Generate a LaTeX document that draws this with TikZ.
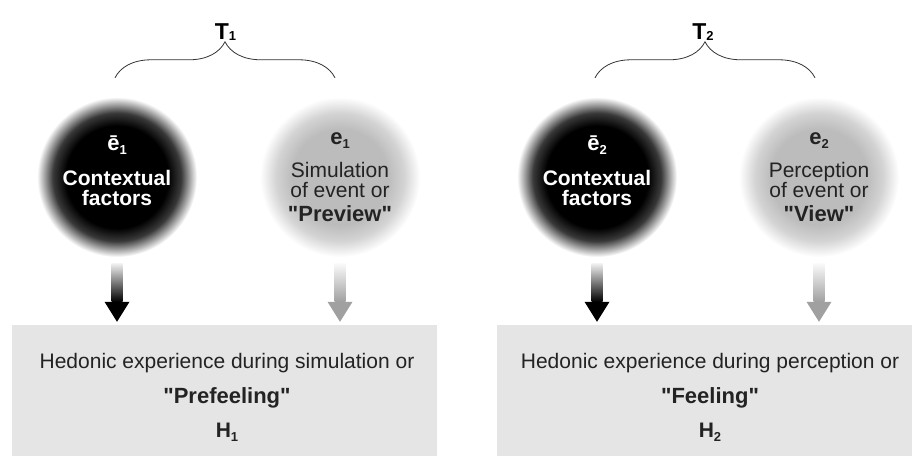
\documentclass[tikz,border=0pt]{standalone}
\usepackage{fontspec}
\setmainfont{Liberation Sans}[Ligatures=TeXOff]
\usetikzlibrary{
    calc,
    decorations.pathreplacing,
    positioning
}
\definecolor{ballgrey}{RGB}{188, 188, 188}
\definecolor{arrowgrey}{RGB}{160, 160, 160}
\definecolor{boxgrey}{RGB}{229, 229, 229}
\definecolor{textgrey}{RGB}{35, 35, 35}
\pgfdeclareradialshading{darkball}{\pgfpointorigin}{color(0bp)=(black); color(16bp)=(black); color(20bp)=(black!78); color(25bp)=(white); color(50bp)=(white)}
\pgfdeclareradialshading{lightball}{\pgfpointorigin}{color(0bp)=(ballgrey); color(15bp)=(ballgrey); color(20bp)=(ballgrey!65!white); color(25bp)=(white); color(50bp)=(white)}
\newcommand{\idx}[2][-4pt]{\raisebox{#1}{\fontsize{13}{13}\selectfont #2}}

\begin{document}
\begin{tikzpicture}[x=1pt, y=1pt,
        ball/.style={circle, minimum size=160pt, inner sep=0pt, align=center, font=\fontsize{21}{20}\selectfont},
        context/.style={ball, shading=darkball, text=white, font=\fontsize{21}{20}\selectfont\bfseries, text depth=12pt},
        event/.style={ball, shading=lightball, text=textgrey},
        hedbox/.style={fill=boxgrey, minimum height=131pt, inner sep=0pt},
        hedtext/.style={align=center, text=textgrey, font=\fontsize{21}{25}\selectfont, inner sep=0pt, anchor=north},
        period/.style={font=\fontsize{23}{23}\selectfont\bfseries, anchor=base},
        brace/.style={decorate, decoration={brace, amplitude=36pt}, line width=0.8pt, black!80}
    ]
        \useasboundingbox (0,0) rectangle (912,456);

        % Time 1
        \node[context] (cf1) at (117,279) {{\fontsize{22}{22}\selectfont ē\idx{1}}\\[15pt]Contextual\\factors};
        \node[event] (ev1) at (340,279) {{\bfseries\fontsize{22}{22}\selectfont e\idx{1}}\\[13pt]Simulation\\of event or\\[4pt]{\bfseries\fontsize{22}{22}\selectfont "Preview"}};
        \node[hedbox, minimum width=425pt] (box1) at (224.5,65.5) {};
        \node[hedtext] (hed1) at (227,103) {Hedonic experience during simulation or\\[10pt]{\bfseries\fontsize{22}{22}\selectfont "Prefeeling"}\\[9pt]{\bfseries H\idx{1}}};

        % Time 2
        \node[context] (cf2) at (597,279) {{\fontsize{22}{22}\selectfont ē\idx{2}}\\[15pt]Contextual\\factors};
        \node[event] (ev2) at (819,279) {{\bfseries\fontsize{22}{22}\selectfont e\idx{2}}\\[13pt]Perception\\of event or\\[4pt]{\bfseries\fontsize{22}{22}\selectfont "View"}};
        \node[hedbox, minimum width=415pt] (box2) at (704.5,65.5) {};
        \node[hedtext] (hed2) at (710,103) {Hedonic experience during perception or\\[10pt]{\bfseries\fontsize{22}{22}\selectfont "Feeling"}\\[9pt]{\bfseries H\idx{2}}};

        % Braces
        \draw[brace] ($(cf1.north)+(-2pt,19pt)$) -- ($(ev1.north)+(-5pt,19pt)$);
        \draw[brace] ($(cf2.north)+(-2pt,19pt)$) -- ($(ev2.north)+(-4pt,19pt)$);
        \node[period] (t1) at ($(cf1.north)!0.5!(ev1.north)+(-3pt,57pt)$) {T\idx[-1pt]{1}};
        \node[period] (t2) at ($(cf2.north)!0.5!(ev2.north)+(-5pt,57pt)$) {T\idx[-1pt]{2}};

        % Arrows
        \foreach \src/\dst/\col in {cf1/box1/black, ev1/box1/arrowgrey, cf2/box2/black, ev2/box2/arrowgrey} {
            \shade[top color=\col!5, bottom color=\col] ($(\src.south)+(-5.5pt,-6pt)$) rectangle ($(\src.south |- \dst.north)+(5.5pt,23pt)$);
            \fill[\col] ($(\src.south |- \dst.north)+(-12.5pt,23pt)$) -- ++(25pt,0pt) -- ($(\src.south |- \dst.north)+(0pt,3pt)$) -- cycle;
        }
    \end{tikzpicture}
\end{document}
